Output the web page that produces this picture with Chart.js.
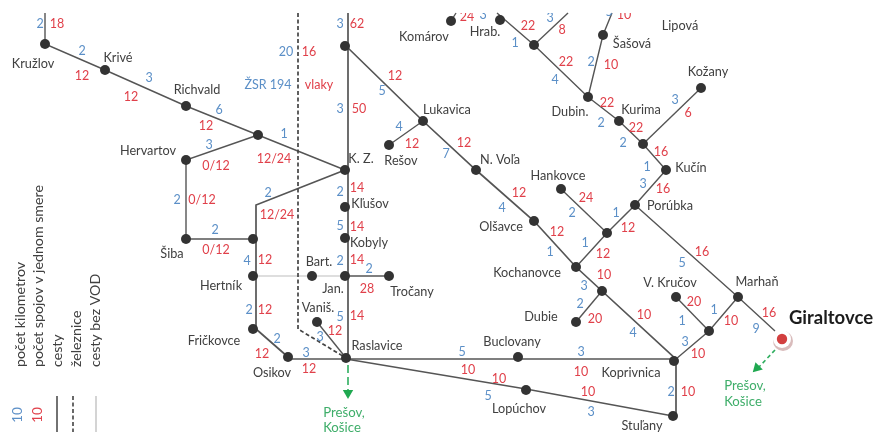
<!DOCTYPE html>
<html>
<head>
<meta charset="utf-8">
<script src="https://cdn.jsdelivr.net/npm/chart.js@4"></script>
<style>
html,body{margin:0;padding:0;background:#fff;overflow:hidden}
canvas{display:block;filter:blur(0.55px)}
</style>
</head>
<body>
<canvas id="c" width="875" height="432"></canvas>
<script>
// Stops: position in the schematic's own coordinates
const stops = [[45,44],[105,70],[186,106],[258,135],[186,160],[345,170],[186,239],[253,239],[253,276],[253,329],
[288,357],[346,358],[345,46],[423,121],[389,145],[476,170],[534,221],[576,267],[576,322],[602,291],
[674,361],[673,416],[526,390],[518,357],[345,276],[312,276],[389,276],[317,322],[345,238],[345,207],
[451,21],[500,20],[534,45],[588,97],[603,35],[619,121],[643,144],[701,88],[666,170],[635,205],
[607,233],[561,189],[738,297],[676,297],[709,331]];

const roads = [
[[45,13],[45,44],[105,70],[186,106],[258,135],[345,170]],
[[186,239],[186,160],[258,135]],
[[186,239],[256,239]],
[[345,170],[256,205],[256,329],[288,357]],
[[348,13],[348,358]],
[[288,359],[676,359]],
[[346,46],[423,121],[476,170],[534,221],[576,267],[602,291],[676,359],[676,416]],
[[423,121],[389,145]],
[[346,359],[526,389],[673,416]],
[[346,276],[389,276]],
[[317,322],[346,358]],
[[576,322],[602,291]],
[[576,267],[607,233],[635,205],[666,170]],
[[561,189],[607,233]],
[[635,205],[738,297],[775,331]],
[[676,359],[709,331],[738,297]],
[[676,297],[709,331]],
[[497,13],[534,45],[588,97],[619,121],[643,144],[666,170]],
[[534,45],[568,13]],
[[588,97],[603,35],[612,13]],
[[643,144],[701,88]],
[[451,21],[456,13]]
];
const noVodRoads = [[[253,276],[346,276]]];
const railway = [[298,13],[298,329],[346,358]];
const greenStems = [[[348,365],[348,390]],[[775,350],[759,367]]];
const greenHeads = [[348,393],[757,368]];
const legendRoad = [[57,396],[57,432]];
const legendRail = [[73,396],[73,432]];
const legendNoVod = [[96,396],[96,432]];

const kmLabels = [["2",40,24],["2",82,51],["3",149,78],["6",219,110],["1",284,134],["3",209,145],["2",177,200],["2",215,230],["2",268,193],["4",247,261],["2",249,310],["2",277,339],["3",306,353],["20",286,52],["ŽSR 194",268,85],["3",340,24],["3",340,109],["5",382,91],["4",399,127],["7",446,154],["4",502,208],["2",340,192],["5",340,226],["2",340,261],["2",369,269],["5",340,317],["3",320,337],["3",483,15],["3",550,18],["1",515,43],["4",555,80],["2",591,62],["5",609,12],["2",601,123],["2",623,143],["3",675,100],["1",647,167],["3",643,184],["1",616,213],["2",572,213],["1",585,243],["1",550,252],["3",584,286],["2",580,304],["4",633,333],["5",682,263],["1",682,321],["3",685,342],["1",714,310],["9",756,329],["5",462,352],["3",581,352],["5",488,396],["3",591,412],["2",671,392]];

const tripLabels = [["18",57,24],["12",82,76],["12",131,97],["12",206,126],["12/24",274,159],["0/12",216,166],["0/12",202,200],["0/12",216,250],["12/24",277,215],["12",265,260],["12",265,310],["12",262,354],["12",309,369],["16",309,52],["vlaky",319,85],["62",357,24],["50",359,109],["12",395,76],["12",412,144],["12",464,143],["12",519,193],["12",557,232],["14",357,188],["14",357,227],["14",357,260],["28",367,289],["14",357,316],["12",335,331],["24",467,17],["22",528,26],["8",562,30],["22",566,62],["10",624,15],["10",611,65],["22",607,103],["22",636,128],["16",661,152],["6",688,113],["16",663,189],["24",586,198],["12",628,228],["12",603,254],["10",604,275],["20",595,319],["10",644,315],["16",702,252],["20",694,302],["10",731,321],["16",769,313],["10",698,354],["10",468,370],["10",499,379],["10",581,372],["10",588,392],["10",688,392]];

const stopNames = [["Kružlov",33,64],["Krivé",118,58],["Richvald",197,90],["Hervartov",148,151],["Šiba",172,254],["Hertník",221,286],["Fričkovce",214,341],["Osikov",272,373],["K. Z.",361,159],["Komárov",424,37],["Hrab.",485,32],["Lukavica",447,110],["Rešov",401,161],["N. Voľa",500,160],["Hankovce",558,176],["Olšavce",501,227],["Kochanovce",527,273],["Dubie",541,317],["Kľušov",370,204],["Kobyly",369,243],["Bart.",319,262],["Jan.",333,289],["Tročany",412,292],["Vaniš.",318,308],["Raslavice",377,346],["Buclovany",512,342],["Lopúchov",519,409],["Koprivnica",631,373],["Stuľany",642,426],["V. Kručov",670,283],["Marhaň",757,282],["Dubin.",570,112],["Kurima",641,110],["Kučín",691,168],["Porúbka",670,206],["Šašová",632,44],["Lipová",680,26],["Kožany",708,72]];

const greenLabels = [["Prešov,",344,413],["Košice",342,428],["Prešov,",745,386],["Košice",743,402]];
const townLabel = ["Giraltovce",831,318];
const townPoint = [782,339];

const legendTexts = [["počet kilometrov",20,"#404040"],["počet spojov v jednom smere",38,"#404040"],["cesty",57,"#404040"],["železnice",76,"#404040"],["cesty bez VOD",95,"#404040"]];
const legendSamples = [["10",18,"#5b8fc7"],["10",38,"#e0404a"]];

const BLUE="#5b8fc7", RED="#e0404a", INK="#404040", GREEN="#3fae6a";
const toPts = a => a.map(p => ({x:p[0],y:p[1]}));
const lineSet = (pts,color,width,dash) => ({type:"scatter",showLine:true,data:toPts(pts),borderColor:color,backgroundColor:color,borderWidth:width,borderDash:dash||[],pointRadius:0,tension:0});

const datasets = [];
noVodRoads.forEach(r => datasets.push(lineSet(r,"#bdbdbd",1.2)));
roads.forEach((r,i) => {
  const thick = [2,3,4,5,6,9].includes(i);
  datasets.push(lineSet(r,"#555555",thick?1.7:1.4));
});
datasets.push(lineSet(railway,"#444444",1.7,[4,2.5]));
datasets.push(lineSet(legendRoad,"#444444",1.5));
datasets.push(lineSet(legendRail,"#444444",1.6,[4,2.5]));
datasets.push(lineSet(legendNoVod,"#bdbdbd",1.3));
greenStems.forEach((r,i) => datasets.push(lineSet(r,"#2fae5f",1.6,i===1?[4,3]:[8,4])));
datasets.push({type:"scatter",data:toPts(greenHeads),pointStyle:"triangle",pointRadius:[6,6],pointRotation:[180,225],backgroundColor:"#1fa850",borderWidth:0});
datasets.push({type:"scatter",data:toPts(stops),pointRadius:5,backgroundColor:"#333333",borderWidth:0});
datasets.push({type:"scatter",data:[{x:townPoint[0]+1,y:townPoint[1]+2}],pointRadius:10,backgroundColor:"#d9bcbc",borderWidth:0});
datasets.push({type:"scatter",data:[{x:townPoint[0],y:townPoint[1]}],pointRadius:9,backgroundColor:"#ffffff",borderWidth:0});
datasets.push({type:"scatter",data:[{x:townPoint[0],y:townPoint[1]}],pointRadius:5.2,backgroundColor:"#d23f3f",borderWidth:0});
// Chart.js paints the first dataset last, so reverse to paint in the listed order
datasets.reverse();

const textPlugin = {
  id:"schemeText",
  afterDatasetsDraw(chart){
    const {ctx,scales:{x,y}} = chart;
    ctx.save();
    ctx.beginPath();
    ctx.rect(0,y.getPixelForValue(13),875,432);
    ctx.clip();
    ctx.textAlign="center"; ctx.textBaseline="middle";
    const put = (rows,font,color) => {
      ctx.font=font; ctx.fillStyle=color;
      rows.forEach(r => ctx.fillText(r[0],x.getPixelForValue(r[1]),y.getPixelForValue(r[2])));
    };
    put(kmLabels,'12.5px Lato',BLUE);
    put(tripLabels,'12.5px Lato',RED);
    put(stopNames,'12.7px Lato',INK);
    put(greenLabels,'13.2px Lato',GREEN);
    put([townLabel],'bold 18.5px Lato','#1c1c1c');
    const vert = (t,px,py,font,color,align) => {
      ctx.save();
      ctx.translate(x.getPixelForValue(px),y.getPixelForValue(py));
      ctx.rotate(-Math.PI/2);
      ctx.textAlign=align; ctx.font=font; ctx.fillStyle=color;
      ctx.fillText(t,0,0);
      ctx.restore();
    };
    legendTexts.forEach(r => vert(r[0],r[1],367,'14.2px Lato',r[2],"left"));
    legendSamples.forEach(r => vert(r[0],r[1],415,'13.5px Lato',r[2],"center"));
    ctx.restore();
  }
};

new Chart(document.getElementById("c"),{
  type:"scatter",
  data:{datasets},
  options:{
    responsive:false,animation:false,
    layout:{padding:0,autoPadding:false},
    plugins:{legend:{display:false},tooltip:{enabled:false}},
    scales:{
      x:{type:"linear",min:0,max:875,display:false},
      y:{type:"linear",min:0,max:432,reverse:true,display:false}
    }
  },
  plugins:[textPlugin]
});
</script>
</body>
</html>
